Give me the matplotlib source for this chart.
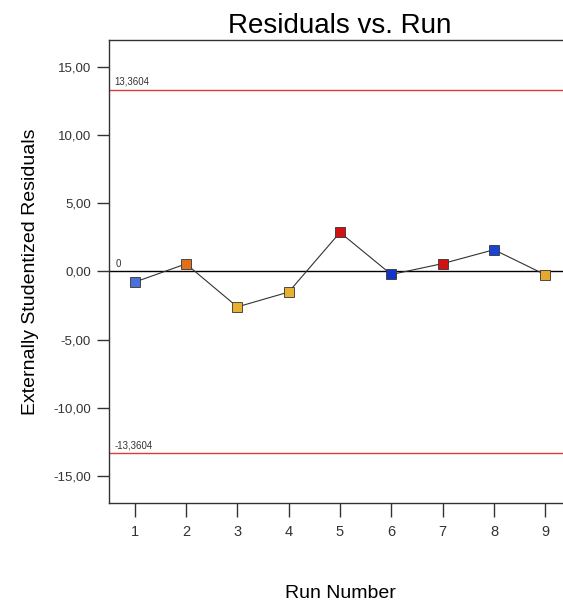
import matplotlib
matplotlib.use("Agg")
import matplotlib.pyplot as plt
from matplotlib.ticker import FuncFormatter

plt.rcParams['font.family'] = ['Liberation Sans', 'DejaVu Sans']

# data
runs = [1, 2, 3, 4, 5, 6, 7, 8, 9]
residuals = [-0.78, 0.56, -2.60, -1.51, 2.87, -0.22, 0.58, 1.60, -0.24]
point_colors = ['#4a6fd6', '#e0701c', '#e8b030', '#e8b030', '#d41010',
                '#1232c8', '#d41010', '#1a44d4', '#e8a830']
limit = 13.3604
y_ticks = [-15, -10, -5, 0, 5, 10, 15]

fig = plt.figure(figsize=(5.63, 6.04), dpi=100)
ax = fig.add_axes([0.1936, 0.1672, 0.8206, 0.7666])

# control limits and zero line
ax.axhline(limit, color='#e03838', linewidth=1.0)
ax.axhline(-limit, color='#e03838', linewidth=1.0)
ax.axhline(0, color='black', linewidth=1.0)
ax.text(0.6, limit + 0.35, '13,3604', fontsize=7, color='#333333')
ax.text(0.6, -limit + 0.35, '-13,3604', fontsize=7, color='#333333')
ax.text(0.63, 0.35, '0', fontsize=7, color='#333333')

ax.plot(runs, residuals, color='#333333', linewidth=0.8, zorder=2)
for x, y, c in zip(runs, residuals, point_colors):
    ax.plot(x, y, marker='s', markersize=6.5, color=c,
            markeredgecolor='#333333', markeredgewidth=0.6, zorder=3)

ax.set_xlim(0.5, 9.5)
ax.set_ylim(-17, 17)
ax.set_xticks(runs)
ax.set_yticks(y_ticks)
ax.yaxis.set_major_formatter(FuncFormatter(lambda v, p: f"{v:.2f}".replace('.', ',')))
ax.tick_params(axis='y', labelsize=9.5, length=9, width=1, pad=4, colors='#333333')
ax.tick_params(axis='x', labelsize=10.5, length=10, width=1, pad=6, colors='#333333')

ax.spines['right'].set_visible(False)
for side in ['left', 'bottom', 'top']:
    ax.spines[side].set_color('#333333')
    ax.spines[side].set_linewidth(1.0)

ax.set_title('Residuals vs. Run', fontsize=20, pad=5)
ax.set_ylabel('Externally Studentized Residuals', fontsize=14, labelpad=10)
ax.set_xlabel('Run Number', fontsize=14, labelpad=33)

fig.savefig('out.png', dpi=100)
